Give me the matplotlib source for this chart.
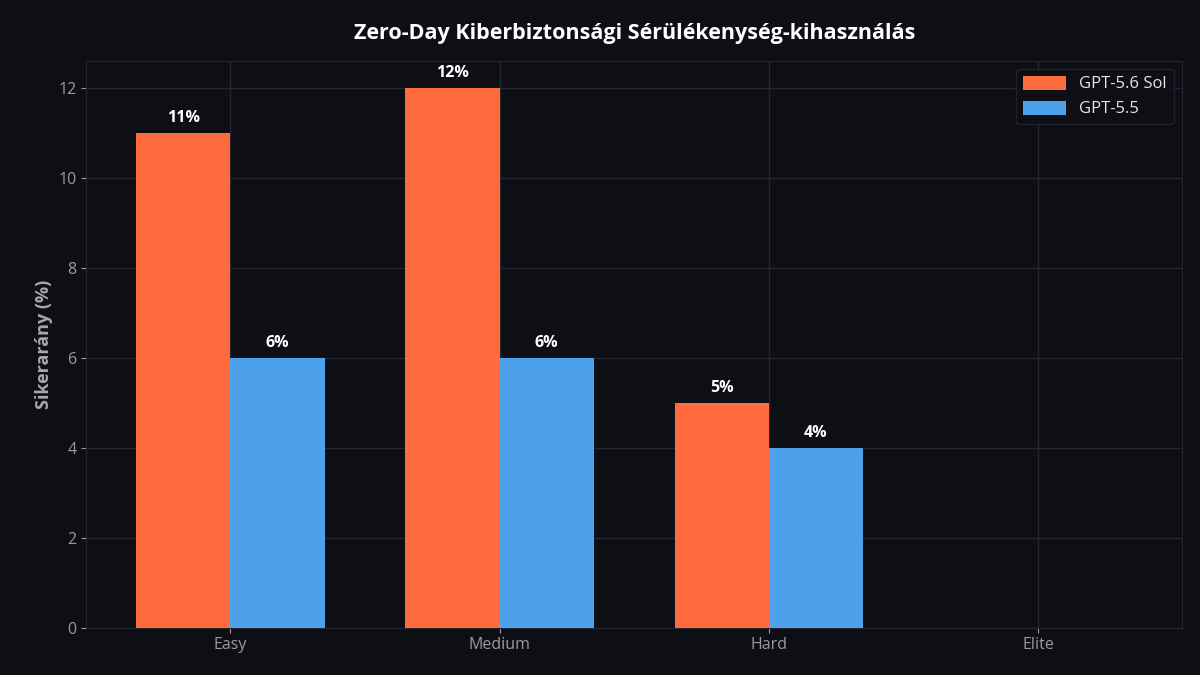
import numpy as np
import matplotlib
matplotlib.use("Agg")
import matplotlib.pyplot as plt

categories = ["Easy", "Medium", "Hard", "Elite"]
sol_values = [11, 12, 5, 0]
gpt55_values = [6, 6, 4, 0]
series_names = ["GPT-5.6 Sol", "GPT-5.5"]

BG = "#0d0f14"
GRID = "#262633"
ORANGE = "#ff6b3d"
BLUE = "#4da0ea"

plt.rcParams["font.family"] = ["Open Sans", "DejaVu Sans"]

fig, ax = plt.subplots(figsize=(12, 6.75), dpi=100)
fig.patch.set_facecolor(BG)
ax.set_facecolor(BG)

x = np.arange(len(categories))
w = 0.35
b1 = ax.bar(x - w / 2, sol_values, w, color=ORANGE, label=series_names[0], zorder=3)
b2 = ax.bar(x + w / 2, gpt55_values, w, color=BLUE, label=series_names[1], zorder=3)

for bars in (b1, b2):
    for r in bars:
        h = r.get_height()
        if h > 0:
            ax.text(r.get_x() + r.get_width() / 2, h + 0.15, f"{h:.0f}%",
                    ha="center", va="bottom", color="white", fontsize=11.5,
                    fontweight="bold", zorder=4)

ax.set_xticks(x)
ax.set_xticklabels(categories)
ax.set_ylim(0, 12.6)
ax.set_yticks(range(0, 13, 2))
ax.tick_params(colors="#9a9aa4", labelsize=11.5)
for t in ax.get_xticklabels() + ax.get_yticklabels():
    t.set_color("#9a9aa4")
ax.grid(True, color=GRID, linewidth=1, zorder=0)
for s in ax.spines.values():
    s.set_color(GRID)
ax.set_ylabel("Sikerarány (%)", color="#a8a8b0", fontsize=13, fontweight="bold")
ax.set_title("Zero-Day Kiberbiztonsági Sérülékenység-kihasználás", color="white",
             fontsize=15.5, fontweight="bold", pad=16)

leg = ax.legend(loc="upper right", fontsize=12, facecolor=BG, edgecolor=GRID,
                labelcolor="#e6e6e6", handlelength=2.6, handleheight=0.9)

fig.subplots_adjust(left=0.072, right=0.985, top=0.91, bottom=0.07)
fig.savefig("out.png", dpi=100, facecolor=BG)
